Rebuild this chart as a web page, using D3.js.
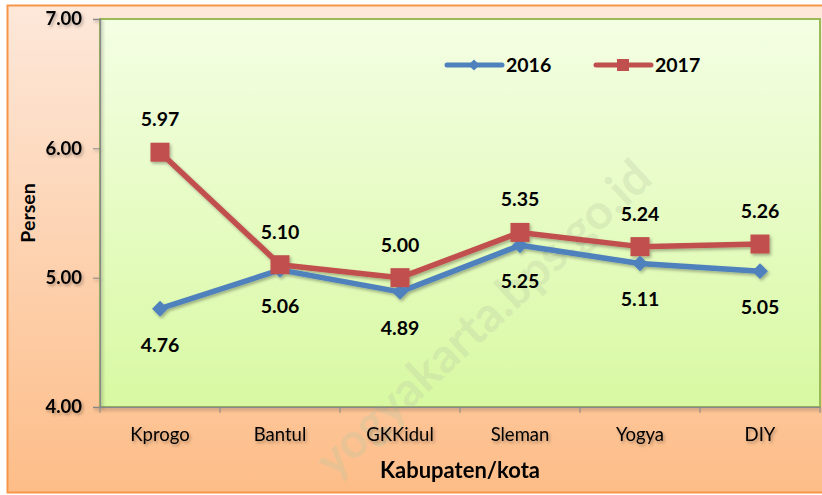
<!DOCTYPE html>
<html><head><meta charset="utf-8">
<script src="https://cdn.jsdelivr.net/npm/d3@7"></script>
<style>body{margin:0;background:#fff}svg{display:block;font-family:Lato,"Open Sans",sans-serif}</style>
</head><body>
<script>
const categories = ["Kprogo","Bantul","GKKidul","Sleman","Yogya","DIY"];
const values2016 = [4.76,5.06,4.89,5.25,5.11,5.05];
const values2017 = [5.97,5.10,5.00,5.35,5.24,5.26];
const yTicks = [4,5,6,7];
const seriesNames = ["2016","2017"];

const W=822,H=495;
const svg=d3.select("body").append("svg").attr("width",W).attr("height",H);
const defs=svg.append("defs");
const og=defs.append("linearGradient").attr("id","og").attr("x1",0).attr("y1",0).attr("x2",0).attr("y2",1);
og.append("stop").attr("offset","0%").attr("stop-color","#fde8da");
og.append("stop").attr("offset","100%").attr("stop-color","#fdbd88");
const pg=defs.append("linearGradient").attr("id","pg").attr("x1",0).attr("y1",0).attr("x2",0).attr("y2",1);
pg.append("stop").attr("offset","0%").attr("stop-color","#f4fee4");
pg.append("stop").attr("offset","100%").attr("stop-color","#d8f9a2");
const sh=defs.append("filter").attr("id","sh").attr("x","-10%").attr("y","-10%").attr("width","130%").attr("height","130%");
sh.append("feDropShadow").attr("dx",1.5).attr("dy",2).attr("stdDeviation",1.5).attr("flood-color","#000").attr("flood-opacity",0.3);

svg.append("rect").attr("x",7.5).attr("y",5.5).attr("width",820).attr("height",487).attr("fill","url(#og)").attr("stroke","#f79646").attr("stroke-width",2);

const m={l:100,r:820,t:19,b:407};
const x=d3.scaleBand().domain(categories).range([m.l,m.r]);
const y=d3.scaleLinear().domain([4,7]).range([m.b,m.t]);
const cx=d=>x(d)+x.bandwidth()/2;

svg.append("rect").attr("x",m.l).attr("y",m.t).attr("width",m.r-m.l).attr("height",m.b-m.t).attr("fill","url(#pg)").attr("stroke","#9bbb59").attr("stroke-width",2);

// watermark
svg.append("text").attr("transform","translate(334,480) rotate(-43)").attr("font-size",48).attr("font-weight","bold")
  .attr("fill","#b8c8a4").attr("fill-opacity",0.3).text("yogyakarta.bps.go.id");

// axes
const ya=svg.append("g").attr("transform",`translate(${m.l},0)`).attr("filter","url(#sh)")
  .call(d3.axisLeft(y).tickValues(yTicks).tickFormat(d3.format(".2f")).tickSize(7).tickPadding(11));
ya.select(".domain").attr("stroke","#888").attr("stroke-width",1.5);
ya.selectAll(".tick line").attr("stroke","#888");
ya.selectAll(".tick text").attr("font-size",18.5).attr("font-weight","bold").attr("fill","#000").attr("font-family","Lato");

const xa=svg.append("g").attr("transform",`translate(0,${m.b})`).attr("filter","url(#sh)")
  .call(d3.axisBottom(x).tickSizeOuter(0).tickSize(0).tickPadding(21));
xa.select(".domain").attr("stroke","#888").attr("stroke-width",1.5);
xa.selectAll(".tick text").attr("font-size",18.5).attr("fill","#000").attr("font-family","Lato");
const bounds=categories.map(c=>x(c)).concat([m.r]);
svg.append("g").selectAll("line").data(bounds).join("line")
  .attr("x1",d=>d).attr("x2",d=>d).attr("y1",m.b).attr("y2",m.b+6).attr("stroke","#888").attr("stroke-width",1);

svg.append("text").attr("x",460).attr("y",478).attr("text-anchor","middle").attr("font-size",22).attr("font-weight","bold").text("Kabupaten/kota");
svg.append("text").attr("transform","translate(35,213) rotate(-90)").attr("text-anchor","middle").attr("font-size",19.5).attr("font-weight","bold").text("Persen");

const line=d3.line().x((d,i)=>cx(categories[i])).y(d=>y(d));
const blue="#4f81bd",red="#c0504d";
const g=svg.append("g").attr("filter","url(#sh)");
g.append("path").datum(values2016).attr("d",line).attr("fill","none").attr("stroke",blue).attr("stroke-width",5.5).attr("stroke-linejoin","round");
g.append("path").datum(values2017).attr("d",line).attr("fill","none").attr("stroke",red).attr("stroke-width",5.5).attr("stroke-linejoin","round");
const diamond=d3.symbol().type(d3.symbolDiamond2).size(160);
g.selectAll(".d").data(values2016).join("path").attr("transform",(d,i)=>`translate(${cx(categories[i])},${y(d)})`).attr("d",diamond).attr("fill",blue);
g.selectAll(".s").data(values2017).join("rect").attr("x",(d,i)=>cx(categories[i])-9.5).attr("y",d=>y(d)-9.5).attr("width",19).attr("height",19).attr("fill",red);

svg.selectAll(".l16").data(values2016).join("text").attr("x",(d,i)=>cx(categories[i])).attr("y",d=>y(d)+43)
  .attr("text-anchor","middle").attr("font-size",19.5).attr("font-weight","bold").text(d=>d.toFixed(2));
svg.selectAll(".l17").data(values2017).join("text").attr("x",(d,i)=>cx(categories[i])).attr("y",d=>y(d)-26)
  .attr("text-anchor","middle").attr("font-size",19.5).attr("font-weight","bold").text(d=>d.toFixed(2));

// legend
const lg=svg.append("g");
[[447,blue,"d"],[596,red,"s"]].forEach(([lx,col,t],k)=>{
  lg.append("line").attr("x1",lx).attr("x2",lx+55).attr("y1",65).attr("y2",65).attr("stroke",col).attr("stroke-width",5).attr("stroke-linecap","round");
  if(t==="d") lg.append("path").attr("transform",`translate(${lx+27},65)`).attr("d",d3.symbol().type(d3.symbolDiamond2).size(80)).attr("fill",col);
  else lg.append("rect").attr("x",lx+21).attr("y",59).attr("width",12).attr("height",12).attr("fill",col);
  lg.append("text").attr("x",lx+59).attr("y",72).attr("font-size",19.5).attr("font-weight","bold").text(seriesNames[k]);
});
</script>
</body></html>
